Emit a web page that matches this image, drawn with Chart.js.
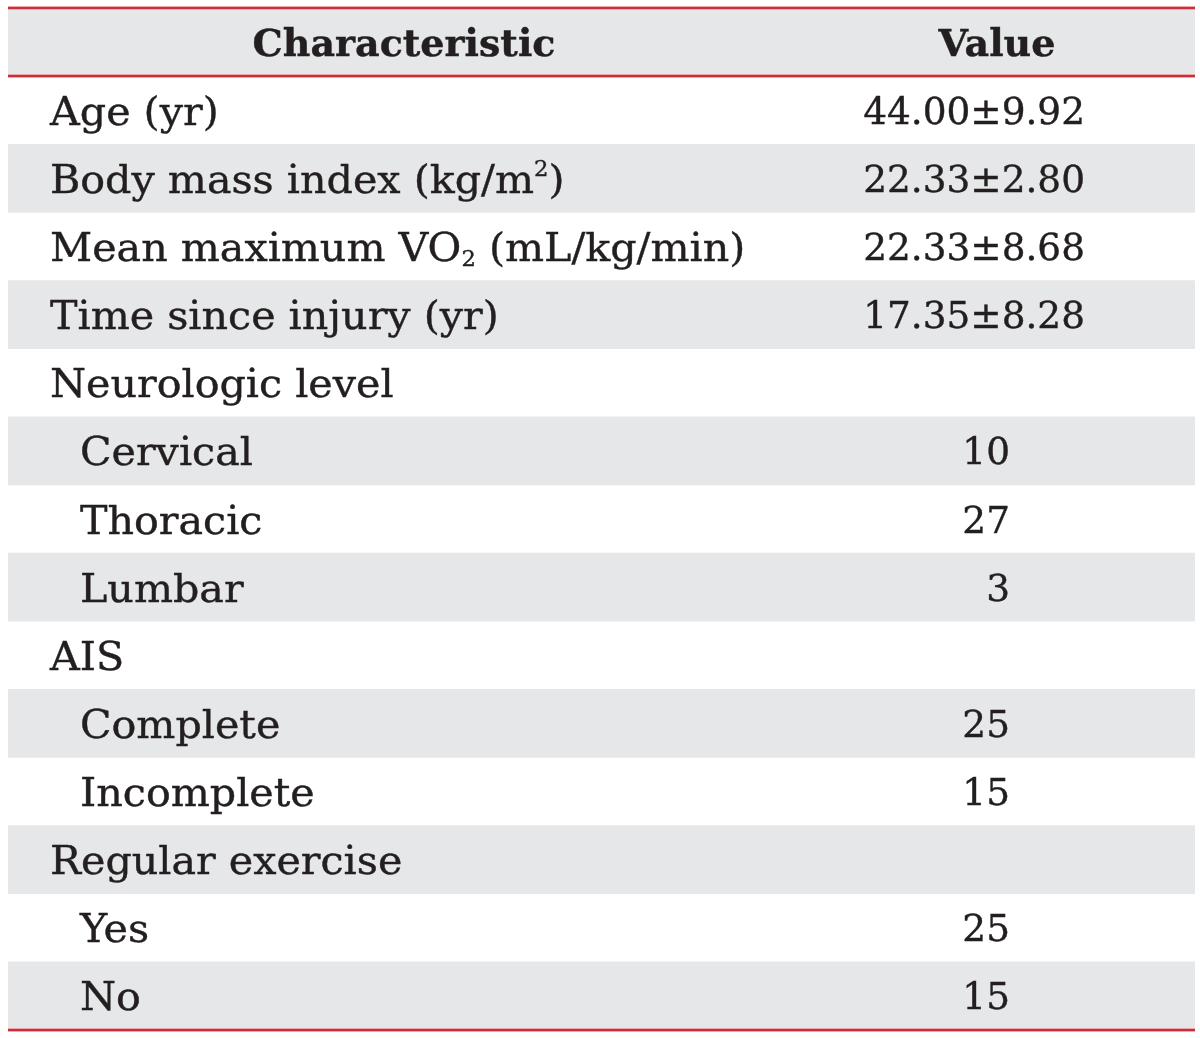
<!DOCTYPE html>
<html>
<head>
<meta charset="utf-8">
<script src="https://cdn.jsdelivr.net/npm/chart.js@4/dist/chart.umd.min.js"></script>
<style>
  html, body { margin: 0; padding: 0; background: #ffffff; }
  canvas { display: block; }
</style>
</head>
<body>
<canvas id="c" width="1200" height="1038"></canvas>
<script>
// ---- data ----
const headers = ['Characteristic', 'Value'];
const characteristics = [
  'Age (yr)',
  'Body mass index (kg/m²)',
  'Mean maximum VO₂ (mL/kg/min)',
  'Time since injury (yr)',
  'Neurologic level',
  'Cervical',
  'Thoracic',
  'Lumbar',
  'AIS',
  'Complete',
  'Incomplete',
  'Regular exercise',
  'Yes',
  'No'
];
const indentLevels = [0, 0, 0, 0, 0, 1, 1, 1, 0, 1, 1, 0, 1, 1];
const meanSdValues = ['44.00±9.92', '22.33±2.80', '22.33±8.68', '17.35±8.28', '', '', '', '', '', '', '', '', '', ''];
const countValues  = [null, null, null, null, null, 10, 27, 3, null, 25, 15, null, 25, 15];

// ---- styles ----
const FONT_FAMILY = '"DejaVu Serif", "Liberation Serif", serif';
const HEADER_SIZE = 38;
const LABEL_SIZE = 40;
const VALUE_SIZE = 38;
const LABEL_SCALE_X = 1.03;
const VALUE_SCALE_X = 0.985;
const TEXT_COLOR = '#231f20';
const STRIPE = '#e6e7e8';
const RED = '#c8303a';
const RED_HALO = '#eea6aa';

const rowLabels = [headers[0]].concat(characteristics);
const stripeData = rowLabels.map((_, i) => (i % 2 === 0 ? [0, 1] : null));

function drawRich(ctx, text, x, y, align, sx, size) {
  sx = sx || 1;
  const parts = [];
  let buf = '';
  for (const ch of text) {
    if (ch === '²' || ch === '₂') {
      if (buf) parts.push({ t: buf, k: 'n' });
      buf = '';
      parts.push({ t: '2', k: ch === '²' ? 'sup' : 'sub' });
    } else buf += ch;
  }
  if (buf) parts.push({ t: buf, k: 'n' });
  const base = ctx.font;
  const small = base.replace(/(\d+)px/, (m, n) => Math.round(n * 0.55) + 'px');
  let total = 0;
  parts.forEach(p => { ctx.font = p.k === 'n' ? base : small; p.w = ctx.measureText(p.t).width; total += p.w; });
  let startX = align === 'right' ? x - total * sx : (align === 'center' ? x - total * sx / 2 : x);
  ctx.save();
  ctx.translate(startX, y);
  ctx.scale(sx, 1);
  ctx.textAlign = 'left';
  let cx = 0;
  parts.forEach(p => {
    ctx.font = p.k === 'n' ? base : small;
    let dy = 0;
    if (p.k === 'sup') dy = -size * 0.42;
    if (p.k === 'sub') dy = size * 0.12;
    ctx.fillText(p.t, cx, dy);
    ctx.strokeText(p.t, cx, dy);
    cx += p.w;
  });
  ctx.restore();
  ctx.font = base;
}

const tablePlugin = {
  id: 'tableText',
  afterDatasetsDraw(chart) {
    const ctx = chart.ctx;
    const ys = chart.scales.y;
    const area = chart.chartArea;
    const n = rowLabels.length;
    const half = (ys.getPixelForValue(1) - ys.getPixelForValue(0)) / 2;
    ctx.save();
    ctx.fillStyle = TEXT_COLOR;
    ctx.strokeStyle = TEXT_COLOR;
    ctx.lineWidth = 0.4;
    ctx.textBaseline = 'alphabetic';
    // header
    const hy = ys.getPixelForValue(0) + 14;
    ctx.font = 'bold ' + HEADER_SIZE + 'px ' + FONT_FAMILY;
    drawRich(ctx, headers[0], area.left + 396, hy, 'center', 1, HEADER_SIZE);
    drawRich(ctx, headers[1], area.left + 989, hy, 'center', 1, HEADER_SIZE);
    // body
    characteristics.forEach((label, i) => {
      const c = ys.getPixelForValue(i + 1);
      ctx.font = LABEL_SIZE + 'px ' + FONT_FAMILY;
      drawRich(ctx, label, area.left + 42 + indentLevels[i] * 30, c + 14.5, 'left', LABEL_SCALE_X, LABEL_SIZE);
      ctx.font = VALUE_SIZE + 'px ' + FONT_FAMILY;
      if (meanSdValues[i]) drawRich(ctx, meanSdValues[i], area.left + 1077, c + 13.5, 'right', VALUE_SCALE_X, VALUE_SIZE);
      if (countValues[i] !== null) drawRich(ctx, String(countValues[i]), area.left + 1002, c + 13.5, 'right', VALUE_SCALE_X, VALUE_SIZE);
    });
    // rules
    const lines = [ys.getPixelForValue(0) - half, ys.getPixelForValue(0) + half, ys.getPixelForValue(n - 1) + half];
    lines.forEach(ly => {
      ctx.fillStyle = RED_HALO;
      ctx.fillRect(area.left, Math.round(ly) - 2, area.right - area.left, 4);
      ctx.fillStyle = RED;
      ctx.fillRect(area.left, Math.round(ly) - 1, area.right - area.left, 2);
    });
    ctx.restore();
  }
};

new Chart(document.getElementById('c'), {
  type: 'bar',
  data: {
    labels: rowLabels,
    datasets: [{
      data: stripeData,
      backgroundColor: STRIPE,
      borderWidth: 0,
      barPercentage: 1,
      categoryPercentage: 1,
      borderSkipped: false
    }]
  },
  options: {
    indexAxis: 'y',
    responsive: false,
    animation: false,
    devicePixelRatio: 1,
    layout: { padding: { left: 8, right: 5, top: 8, bottom: 8 } },
    plugins: { legend: { display: false }, tooltip: { enabled: false } },
    scales: {
      x: { display: false, min: 0, max: 1 },
      y: { display: false, offset: true, grid: { display: false } }
    }
  },
  plugins: [tablePlugin]
});
</script>
</body>
</html>
